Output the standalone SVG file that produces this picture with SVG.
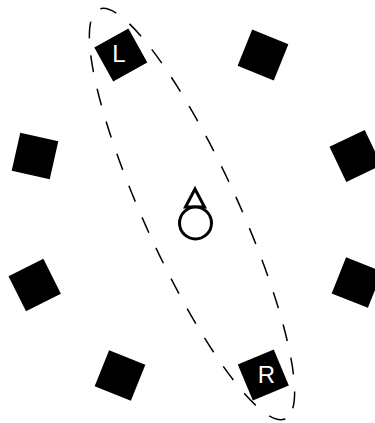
<svg xmlns="http://www.w3.org/2000/svg" width="375" height="423" viewBox="0 0 375 423">
  <style>
    .spk { fill: #000; }
    .lbl { fill: #fff; font-family: "Liberation Sans", Arial, sans-serif; font-size: 24px; text-anchor: middle; }
    .zone { fill: none; stroke: #000; stroke-width: 1.5; stroke-dasharray: 17 17; }
    .lis { fill: #fff; stroke: #000; stroke-width: 3; stroke-linejoin: miter; }
  </style>
  <defs>
    <rect id="sq" x="-19.5" y="-19.5" width="39" height="39"/>
  </defs>
  <rect width="375" height="423" fill="#fff"/>
  <g id="connectors">
    <ellipse class="zone" cx="192" cy="214" rx="225" ry="47" transform="rotate(65.5 192 214)"/>
  </g>
  <g id="speaker-L">
    <use href="#sq" class="spk" transform="translate(120.8 55) rotate(-29)"/>
    <text class="lbl" x="119" y="61.5">L</text>
  </g>
  <g id="speaker-top-right">
    <use href="#sq" class="spk" transform="translate(263 55) rotate(22)"/>
  </g>
  <g id="speaker-left-upper">
    <use href="#sq" class="spk" transform="translate(35 156) rotate(12.7)"/>
  </g>
  <g id="speaker-right-upper">
    <use href="#sq" class="spk" transform="translate(355.5 156) rotate(-25.5)"/>
  </g>
  <g id="speaker-left-lower">
    <use href="#sq" class="spk" transform="translate(34.7 285) rotate(-26.6)"/>
  </g>
  <g id="speaker-right-lower">
    <use href="#sq" class="spk" transform="translate(357 282.5) rotate(21.7)"/>
  </g>
  <g id="speaker-bottom-left">
    <use href="#sq" class="spk" transform="translate(120 375.5) rotate(21.8)"/>
  </g>
  <g id="speaker-R">
    <use href="#sq" class="spk" transform="translate(263.3 375) rotate(-22.7)"/>
    <text class="lbl" x="266.5" y="382.5">R</text>
  </g>
  <g id="listener">
    <polygon class="lis" points="195,189 185.5,207 204.5,207"/>
    <circle class="lis" cx="195.5" cy="223" r="16"/>
  </g>
</svg>
